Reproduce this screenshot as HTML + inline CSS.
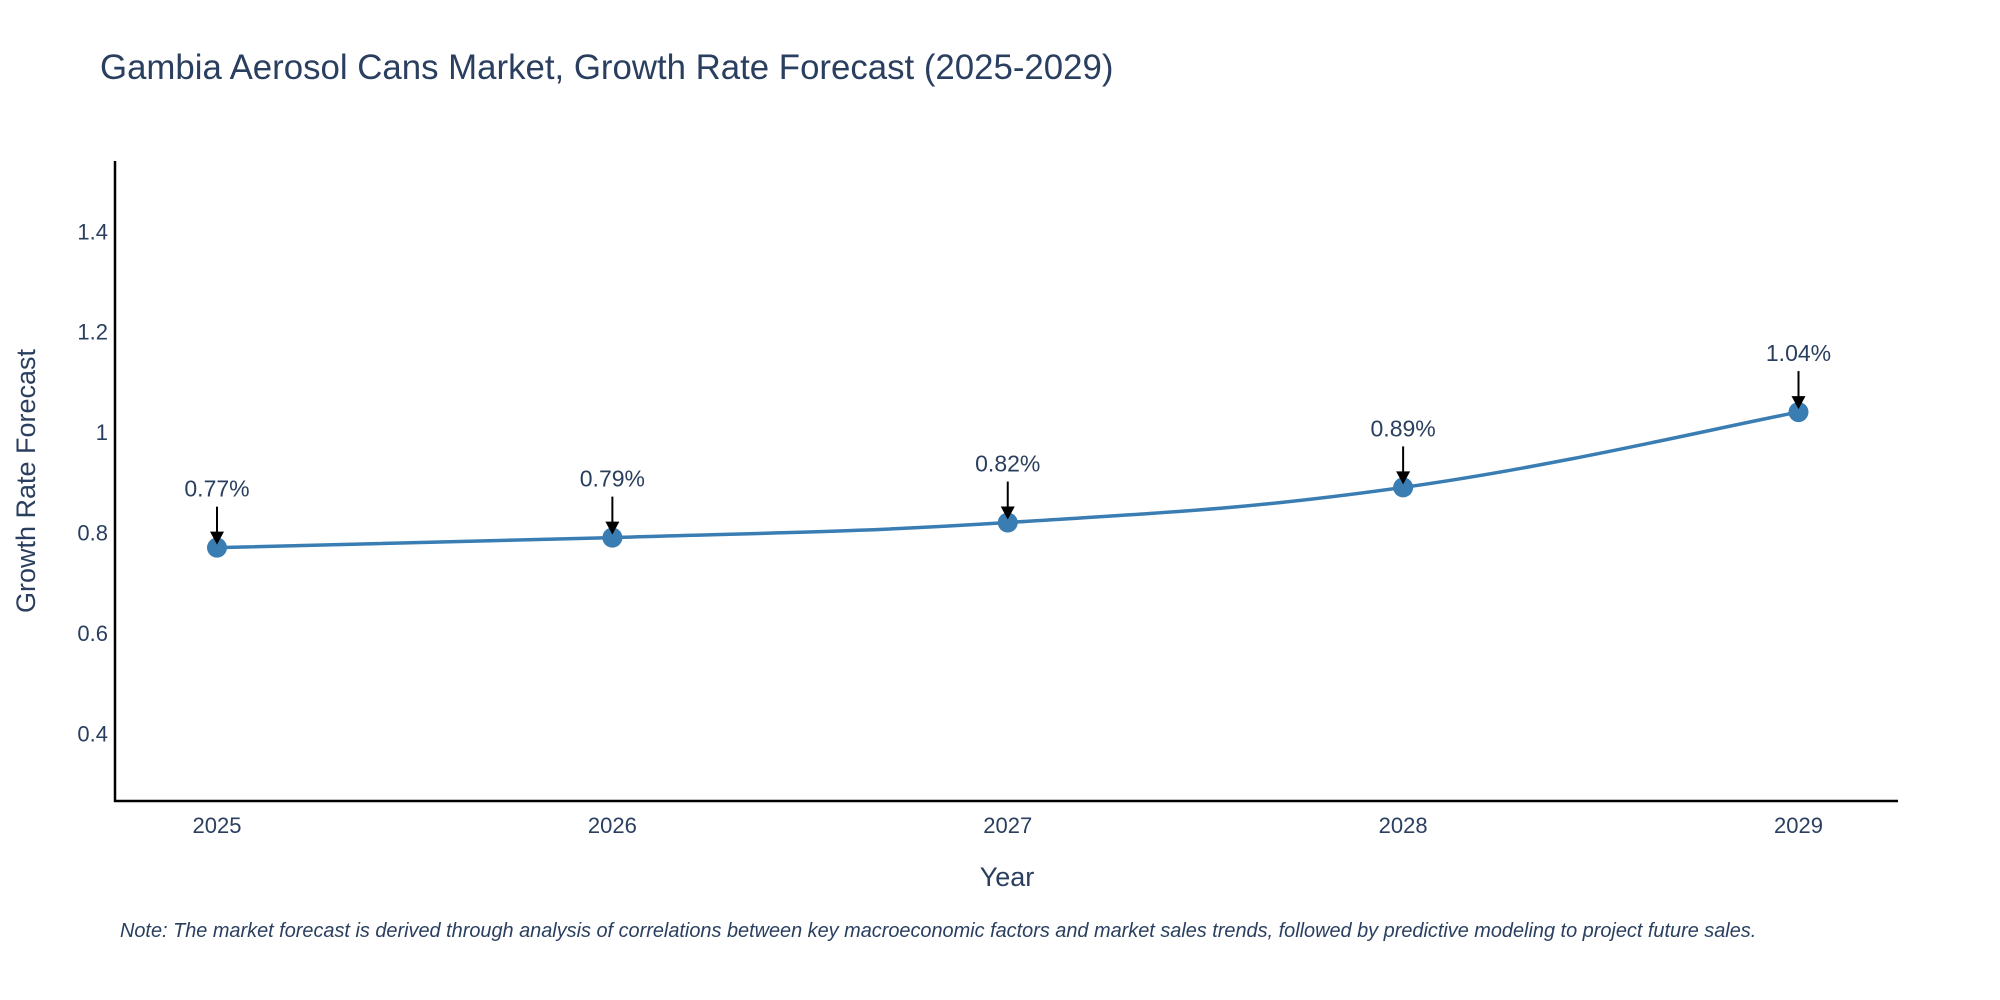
<!DOCTYPE html>
<html><head><meta charset="utf-8"><style>
body{margin:0;background:#fff;}
svg{display:block;font-family:"Liberation Sans",sans-serif;}
</style></head><body>
<svg id="chart" width="2000" height="1000" viewBox="0 0 2000 1000">
<text x="100" y="79" font-size="34.8" fill="#2a3f5f">Gambia Aerosol Cans Market, Growth Rate Forecast (2025-2029)</text>
<g id="yticks"></g>
<g id="xticks"></g>
<line x1="115" y1="161" x2="115" y2="802" stroke="#000" stroke-width="2.5"/>
<line x1="114" y1="801" x2="1898" y2="801" stroke="#000" stroke-width="2.5"/>
<g id="series"></g>
<text x="1007" y="886" font-size="27" fill="#2a3f5f" text-anchor="middle">Year</text>
<text transform="translate(35,481) rotate(-90)" font-size="27" fill="#2a3f5f" text-anchor="middle">Growth Rate Forecast</text>
<text x="120" y="937" font-size="19.9" font-style="italic" fill="#2a3f5f">Note: The market forecast is derived through analysis of correlations between key macroeconomic factors and market sales trends, followed by predictive modeling to project future sales.</text>
</svg>
<script>
const years = [2025, 2026, 2027, 2028, 2029];
const values = [0.77, 0.79, 0.82, 0.89, 1.04];
const valueLabels = ["0.77%", "0.79%", "0.82%", "0.89%", "1.04%"];
const yTicks = [0.4, 0.6, 0.8, 1, 1.2, 1.4];
const yTickLabels = ["0.4", "0.6", "0.8", "1", "1.2", "1.4"];

const NS = "http://www.w3.org/2000/svg";
const yMin = 0.2655, yMax = 1.54, pTop = 161, pBot = 801;
function yScale(v){ return pBot - (v - yMin) / (yMax - yMin) * (pBot - pTop); }
function xScale(yr){ return 217 + (yr - 2025) * (1798.5 - 217) / 4; }
function mk(tag, attrs, parent){ const e = document.createElementNS(NS, tag); for (const k in attrs) e.setAttribute(k, attrs[k]); parent.appendChild(e); return e; }

const yg = document.getElementById('yticks');
yTicks.forEach((t, i) => {
  const el = mk('text', {x: 108, y: yScale(t) + 8, 'font-size': 22, fill: '#2a3f5f', 'text-anchor': 'end'}, yg);
  
  
  el.textContent = yTickLabels[i];
});
const xg = document.getElementById('xticks');
years.forEach(yr => {
  const el = mk('text', {x: xScale(yr), y: 833, 'font-size': 22, fill: '#2a3f5f', 'text-anchor': 'middle'}, xg);
  
  
  el.textContent = String(yr);
});

const sg = document.getElementById('series');
const pts = years.map((yr, i) => [xScale(yr), yScale(values[i])]);
let d = `M${pts[0][0]},${pts[0][1]}`;
for (let i = 0; i < pts.length - 1; i++) {
  const p0 = pts[Math.max(0, i - 1)], p1 = pts[i], p2 = pts[i + 1], p3 = pts[Math.min(pts.length - 1, i + 2)];
  const s = 0.2;
  const c1 = [p1[0] + (p2[0] - p0[0]) * s, p1[1] + (p2[1] - p0[1]) * s];
  const c2 = [p2[0] - (p3[0] - p1[0]) * s, p2[1] - (p3[1] - p1[1]) * s];
  d += ` C${c1[0]},${c1[1]} ${c2[0]},${c2[1]} ${p2[0]},${p2[1]}`;
}
const line = mk('path', {d: d, fill: 'none', stroke: '#3a7db3', 'stroke-width': 3.5}, sg);



pts.forEach((p, i) => {
  const c = mk('circle', {cx: p[0], cy: p[1], r: 10, fill: '#3a7db3'}, sg);
  
  
  const a = mk('line', {x1: p[0], y1: p[1] - 41, x2: p[0], y2: p[1] - 14, stroke: '#000', 'stroke-width': 2}, sg);
  
  
  const h = mk('polygon', {points: `${p[0]-7},${p[1]-16} ${p[0]+7},${p[1]-16} ${p[0]},${p[1]-3}`, fill: '#000'}, sg);
  
  
  const t = mk('text', {x: p[0], y: p[1] - 51, 'font-size': 23, fill: '#2a3f5f', 'text-anchor': 'middle'}, sg);
  
  
  t.textContent = valueLabels[i];
});
</script>
</body></html>
